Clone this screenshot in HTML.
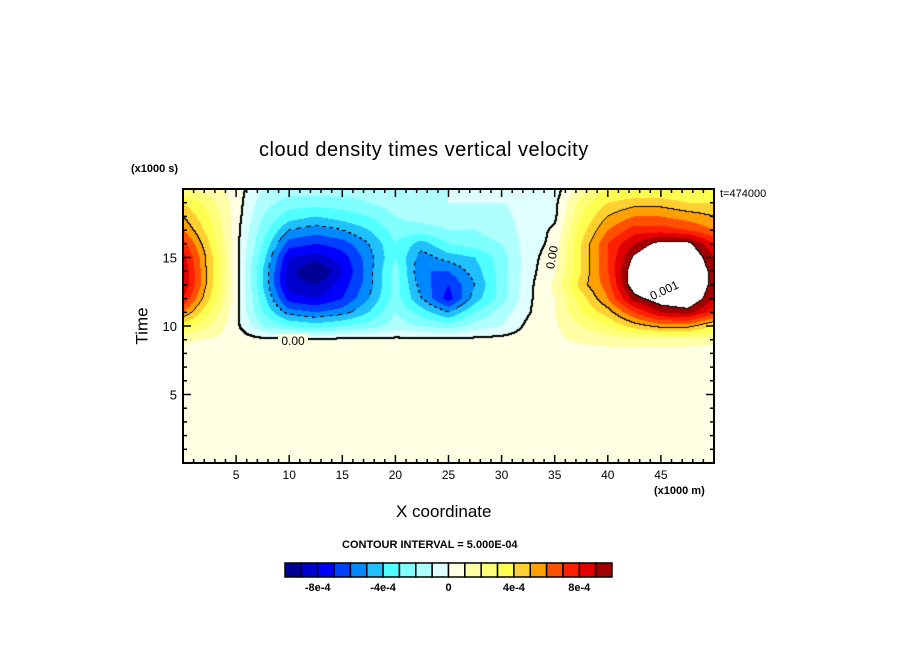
<!DOCTYPE html>
<html><head><meta charset="utf-8">
<style>
body{margin:0;background:#fff;}
#wrap{position:relative;width:904px;height:654px;overflow:hidden;background:#fff;font-family:"Liberation Sans",sans-serif;}
.t{position:absolute;white-space:nowrap;color:#000;}
</style></head><body>
<div id="wrap">
<div class="t" style="left:259px;top:139px;font-size:20px;letter-spacing:0.5px;">cloud density times vertical velocity</div>
<div class="t" style="left:131px;top:163px;font-size:11px;font-weight:bold;">(x1000 s)</div>
<div class="t" style="left:720px;top:188px;font-size:11px;">t=474000</div>
<div class="t" style="left:124px;top:316px;font-size:17px;transform:rotate(-90deg);transform-origin:center;">Time</div>
<div class="t" style="left:654px;top:485px;font-size:11px;font-weight:bold;">(x1000 m)</div>
<div class="t" style="left:396px;top:502px;font-size:17px;">X coordinate</div>
<div class="t" style="left:342px;top:539px;font-size:11px;font-weight:bold;">CONTOUR INTERVAL = 5.000E-04</div>
<canvas id="cv" width="904" height="654" style="position:absolute;left:0;top:0;"></canvas>
<svg id="sv" width="904" height="654" style="position:absolute;left:0;top:0;"></svg>
</div>
<script>
const xGrid=[0,2.5,5,7.5,10,12.5,15,17.5,20,22.5,25,27.5,30,32.5,35,37.5,40,42.5,45,47.5,50];
const yGrid=[20,19,18,17,16,15,14,13,12,11,10,9,8,7,6,5,4,3,2,1,0];
const field=[
[2,1.5,0.5,-1,-1.5,-1.5,-1.5,-1.5,-1.2,-1,-1,-1,-1,-0.8,-0.5,1.5,3,3,3,3,3],
[4,2.5,0.5,-1.5,-2.5,-2.5,-2.5,-2,-1.5,-1.2,-1,-1,-1,-0.8,-0.3,2.5,4,4.5,4.5,4,4],
[5,3,0.5,-2,-3.5,-4,-3.5,-3,-2,-1.5,-1.5,-1.5,-1.2,-0.7,-0.2,3,5,6,6,5.5,5],
[6,3.5,0.4,-2.5,-5,-5.5,-5,-4,-2.5,-2.5,-2,-2,-1.5,-0.6,0.2,3.5,6,7.5,7.5,7,6],
[7.5,4,0.4,-3,-6.5,-7,-6.5,-5,-3,-4.5,-3,-2.5,-2,-0.5,0.3,4,7,9,10.5,10.5,8],
[8.5,4.5,0.4,-3.5,-8,-8.5,-7.5,-5.5,-3,-5.5,-4.5,-4,-2.5,-0.4,0.6,4,7,10.2,12,11.5,9],
[9,4.5,0.4,-4,-8.5,-10.5,-8,-5.5,-2.5,-6,-6,-4.5,-2.5,-0.4,0.9,4,7,11,12.5,12,9.5],
[9,4.5,0.4,-4,-8.5,-9,-7.5,-5.5,-2.5,-5.5,-7,-5,-2.5,-0.3,1.2,4.5,6.5,11,12,12,9.5],
[8,4,0.4,-3.5,-7.5,-8,-7,-5,-2.5,-5,-7.5,-4.5,-2.5,-0.2,1,3.5,6,9.5,11,11.5,9],
[6,3,0.3,-3,-5.5,-6,-5.5,-4,-2,-3.5,-5,-3,-1.5,-0.1,1,3,4.5,7,9,9.5,7.5],
[3.5,2,0.3,-2,-3,-3.5,-3,-2.5,-1.5,-2,-2.5,-1.5,-1,0.3,0.8,2,3,4.5,5.5,5.5,4],
[1.2,0.9,0.6,0.3,0.3,0.3,0.3,0.3,0.3,0.3,0.3,0.3,0.4,0.5,0.8,1.2,1.5,1.5,1.5,1.5,1.3],
[0.5,0.5,0.5,0.5,0.5,0.5,0.5,0.5,0.5,0.5,0.5,0.5,0.5,0.5,0.5,0.5,0.5,0.5,0.5,0.5,0.5],
[0.5,0.5,0.5,0.5,0.5,0.5,0.5,0.5,0.5,0.5,0.5,0.5,0.5,0.5,0.5,0.5,0.5,0.5,0.5,0.5,0.5],
[0.5,0.5,0.5,0.5,0.5,0.5,0.5,0.5,0.5,0.5,0.5,0.5,0.5,0.5,0.5,0.5,0.5,0.5,0.5,0.5,0.5],
[0.5,0.5,0.5,0.5,0.5,0.5,0.5,0.5,0.5,0.5,0.5,0.5,0.5,0.5,0.5,0.5,0.5,0.5,0.5,0.5,0.5],
[0.5,0.5,0.5,0.5,0.5,0.5,0.5,0.5,0.5,0.5,0.5,0.5,0.5,0.5,0.5,0.5,0.5,0.5,0.5,0.5,0.5],
[0.5,0.5,0.5,0.5,0.5,0.5,0.5,0.5,0.5,0.5,0.5,0.5,0.5,0.5,0.5,0.5,0.5,0.5,0.5,0.5,0.5],
[0.5,0.5,0.5,0.5,0.5,0.5,0.5,0.5,0.5,0.5,0.5,0.5,0.5,0.5,0.5,0.5,0.5,0.5,0.5,0.5,0.5],
[0.5,0.5,0.5,0.5,0.5,0.5,0.5,0.5,0.5,0.5,0.5,0.5,0.5,0.5,0.5,0.5,0.5,0.5,0.5,0.5,0.5],
[0.5,0.5,0.5,0.5,0.5,0.5,0.5,0.5,0.5,0.5,0.5,0.5,0.5,0.5,0.5,0.5,0.5,0.5,0.5,0.5,0.5]
];
const colors=["#000096","#0000CD","#0000FF","#0040FF","#0088FF","#20C0FF","#50FFFF","#80FFFF","#B0FFFF","#E0FFFF","#FFFFE4","#FFFFA8","#FFFF78","#FFFF50","#FFD030","#FFA000","#FF5000","#FF2000","#E00000","#A00000"];
const xTicks=[5,10,15,20,25,30,35,40,45];
const yTicks=[5,10,15];
const cbLabels=["-8e-4","-4e-4","0","4e-4","8e-4"];
const cbLabelLevels=[-8,-4,0,4,8];

const L=183,R=714,T=189,B=463,X0=0,X1=50,Y0=0,Y1=20;
const sx=x=>L+(x-X0)/(X1-X0)*(R-L);
const sy=y=>B-(y-Y0)/(Y1-Y0)*(B-T);

function val(x,y){
  const dx=xGrid[1]-xGrid[0];
  let fi=(x-xGrid[0])/dx; fi=Math.max(0,Math.min(xGrid.length-1.0001,fi));
  let fj=(yGrid[0]-y)/(yGrid[0]-yGrid[1]); fj=Math.max(0,Math.min(yGrid.length-1.0001,fj));
  const i=Math.floor(fi),j=Math.floor(fj),u=fi-i,v=fj-j;
  return field[j][i]*(1-u)*(1-v)+field[j][i+1]*u*(1-v)+field[j+1][i]*(1-u)*v+field[j+1][i+1]*u*v;
}
function lvl(v){if(v>=10)return 20;return Math.max(0,Math.floor(v)+10);}

const cv=document.getElementById('cv');const ctx=cv.getContext('2d');
const W=R-L,H=B-T;
const img=ctx.createImageData(W,H);
const vals=new Float32Array(W*H);
for(let py=0;py<H;py++)for(let px=0;px<W;px++){
  const x=X0+(px+0.5)/W*(X1-X0),y=Y1-(py+0.5)/H*(Y1-Y0);
  vals[py*W+px]=val(x,y);
}
function hex(c){return [parseInt(c.substr(1,2),16),parseInt(c.substr(3,2),16),parseInt(c.substr(5,2),16)];}
const rgb=colors.map(hex);
const thr=[0,10,5,-5];
for(let py=0;py<H;py++)for(let px=0;px<W;px++){
  const v=vals[py*W+px];const l=lvl(v);
  let c=l>=20?[255,255,255]:rgb[l];
  const vr=px+1<W?vals[py*W+px+1]:v, vb=py+1<H?vals[(py+1)*W+px]:v;
  for(let k=0;k<thr.length;k++){
    const t=thr[k];
    if((v-t)*(vr-t)<0||(v-t)*(vb-t)<0){
      if(t===-5){ if(((px+py)>>2)%2===0) c=[0,0,0]; }
      else c=[0,0,0];
    }
  }
  const o=(py*W+px)*4;img.data[o]=c[0];img.data[o+1]=c[1];img.data[o+2]=c[2];img.data[o+3]=255;
}
ctx.putImageData(img,L,T);
ctx.fillStyle="#000";
for(let py=0;py<H;py++)for(let px=0;px<W-1;px++){
  const v=vals[py*W+px],vr=vals[py*W+px+1],vb=py+1<H?vals[(py+1)*W+px]:v;
  if(v*vr<0||v*vb<0){ctx.fillRect(L+px,T+py,2,2);}
}

const NS="http://www.w3.org/2000/svg";const sv=document.getElementById('sv');
function el(tag,attrs,name){const e=document.createElementNS(NS,tag);for(const k in attrs)e.setAttribute(k,attrs[k]);


sv.appendChild(e);return e;}
function clabel(x,y,txt,rot){const t=el('text',{x:x,y:y,'font-size':12,'font-family':'Liberation Sans, sans-serif','text-anchor':'middle',transform:rot?`rotate(${rot} ${x} ${y})`:''},'contour-label');t.textContent=txt;}
el('rect',{x:278,y:334,width:30,height:12,fill:'#FFFFE4'},'contour-label-bg');
clabel(293,345,'0.00',0);
clabel(556,258,'0.00',-80);
clabel(666,294,'0.001',-25);
el('rect',{x:L,y:T,width:R-L,height:B-T,fill:'none',stroke:'#000','stroke-width':2},'plot-frame');
for(let x=1;x<50;x++){const maj=x%5===0,len=maj?8:4;
 el('line',{x1:sx(x),x2:sx(x),y1:B,y2:B-len,stroke:'#000','stroke-width':1.5},'x-tick');
 el('line',{x1:sx(x),x2:sx(x),y1:T,y2:T+len,stroke:'#000','stroke-width':1.5},'x-tick-top');}
for(let y=1;y<20;y++){const maj=y%5===0,len=maj?8:4;
 el('line',{x1:L,x2:L+len,y1:sy(y),y2:sy(y),stroke:'#000','stroke-width':1.5},'y-tick');
 el('line',{x1:R,x2:R-len,y1:sy(y),y2:sy(y),stroke:'#000','stroke-width':1.5},'y-tick-right');}
xTicks.forEach(v=>{const t=el('text',{x:sx(v),y:479,'font-size':12,'font-family':'Liberation Sans, sans-serif','text-anchor':'middle'},'x-tick-label');t.textContent=v;});
yTicks.forEach(v=>{const t=el('text',{x:177,y:sy(v)+5,'font-size':13,'font-family':'Liberation Sans, sans-serif','text-anchor':'end'},'y-tick-label');t.textContent=v;});
const cbL=285,cbR=612,cbT=563,cbB=577,bw=(cbR-cbL)/colors.length;
colors.forEach((c,i)=>{el('rect',{x:cbL+i*bw,y:cbT,width:bw,height:cbB-cbT,fill:c,stroke:'#000','stroke-width':1.5},'colorbar-box');});
cbLabels.forEach((s,i)=>{const t=el('text',{x:cbL+(cbLabelLevels[i]+10)*bw,y:591,'font-size':11,'font-weight':'bold','font-family':'Liberation Sans, sans-serif','text-anchor':'middle'},'colorbar-label');t.textContent=s;});
</script>
</body></html>
